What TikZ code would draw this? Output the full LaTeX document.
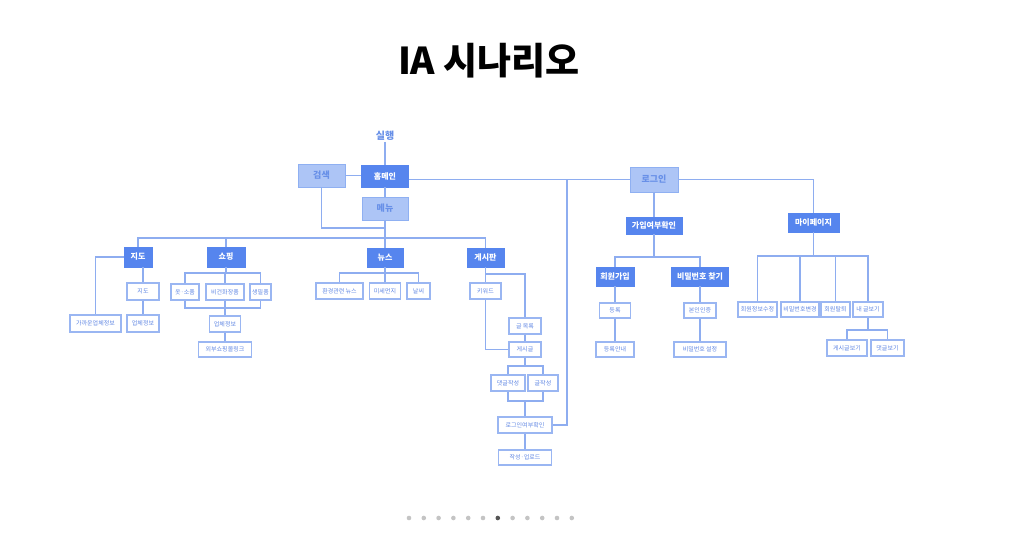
\documentclass[tikz,border=0pt]{standalone}
\usepackage{fontspec}
\setmainfont{Noto Sans CJK KR}
\definecolor{dkblue}{HTML}{5685EE}
\definecolor{ltfill}{HTML}{ADC5F6}
\definecolor{ltborder}{HTML}{8FB0F2}
\definecolor{lttext}{HTML}{6890E8}
\definecolor{lnblue}{HTML}{8EADF0}
\definecolor{wbborder}{HTML}{9AB6F2}
\definecolor{wbtext}{HTML}{6389E4}
\definecolor{dotgray}{HTML}{C4C4C4}
\definecolor{dotdark}{HTML}{555555}
\tikzset{
  darkbox/.style={fill=dkblue, draw=dkblue, text=white, font=\fontsize{8}{9}\selectfont\bfseries, inner sep=0pt, line width=0.8pt},
  lightbox/.style={fill=ltfill, draw=ltborder, text=lttext, font=\fontsize{9}{10}\selectfont\bfseries, inner sep=0pt, line width=1pt},
  whitebox/.style={fill=white, draw=wbborder, text=wbtext, font=\fontsize{6}{7}\selectfont, inner sep=0pt, line width=1.1pt},
  conn/.style={draw=lnblue, line width=1.1pt},
}
\newcommand{\bx}[6]{\node[#1, minimum width=#4pt, minimum height=#5pt] (#2) at (#3) {#6};}
\begin{document}
\begin{tikzpicture}[x=1pt,y=-1pt]
\useasboundingbox (0,0) rectangle (1021,544);
\fill[white] (0,0) rectangle (1021,544);
% title
\node[font=\fontsize{37}{40}\selectfont\bfseries, text=black] (title) at (489,61) {IA 시나리오};
% root
\node[font=\fontsize{10}{11}\selectfont\bfseries, text=lttext, inner sep=1pt] (run) at (385,136) {실행};
\bx{darkbox}{home}{385,176}{47}{22}{홈메인}
\bx{lightbox}{search}{321.5,175.5}{47}{23}{검색}
\bx{lightbox}{menu}{385,208.5}{46}{23}{메뉴}
\bx{lightbox}{login}{654,179.5}{48}{25}{로그인}
% login branch
\bx{darkbox}{joincheck}{654,225.5}{56}{17}{가입여부확인}
\bx{darkbox}{signup}{615,276.5}{38}{19}{회원가입}
\bx{darkbox}{findpw}{700,276.5}{57}{19}{비밀번호 찾기}
\bx{whitebox}{reg}{615,310.5}{31}{15}{등록}
\bx{whitebox}{reginfo}{615,349.5}{38}{15}{등록안내}
\bx{whitebox}{auth}{700,310.5}{32}{15}{본인인증}
\bx{whitebox}{setpw}{700,349.5}{52}{15}{비밀번호 설정}
% my page
\bx{darkbox}{mypage}{813.5,222.5}{51}{19}{마이페이지}
\bx{whitebox}{m1}{757.5,309.5}{39}{15}{회원정보수정}
\bx{whitebox}{m2}{800,309.5}{38}{15}{비밀번호변경}
\bx{whitebox}{m3}{835.5,309.5}{29}{15}{회원탈퇴}
\bx{whitebox}{m4}{868,309.5}{30}{15}{내 글보기}
\bx{whitebox}{m5}{847,348}{40}{16}{게시글보기}
\bx{whitebox}{m6}{887.5,348}{33}{16}{댓글보기}
% menu children
\bx{darkbox}{map}{138,257}{28}{20}{지도}
\bx{darkbox}{shop}{226,257}{38}{20}{쇼핑}
\bx{darkbox}{news}{385,257.5}{36}{19}{뉴스}
\bx{darkbox}{board}{485.5,257.5}{37}{19}{게시판}
\bx{whitebox}{map2}{143,291.5}{32}{17}{지도}
\bx{whitebox}{near}{95.5,323.5}{51}{17}{가까운업체정보}
\bx{whitebox}{mapinfo}{143,323.5}{32}{17}{업체정보}
\bx{whitebox}{s1}{185,292}{28}{16}{옷·소품}
\bx{whitebox}{s2}{225,292}{38}{16}{비건화장품}
\bx{whitebox}{s3}{260.5,292}{21}{16}{생필품}
\bx{whitebox}{sinfo}{225,324}{31}{16}{업체정보}
\bx{whitebox}{slink}{225,349.5}{53}{15}{외부쇼핑몰링크}
\bx{whitebox}{n1}{339.5,291}{47}{16}{환경관련 뉴스}
\bx{whitebox}{n2}{385,291}{31}{16}{미세먼지}
\bx{whitebox}{n3}{418.5,291}{23}{16}{날씨}
\bx{whitebox}{b1}{485.5,291}{31}{16}{키워드}
\bx{whitebox}{b2}{525,326}{32}{16}{글 목록}
\bx{whitebox}{b3}{525,349.5}{32}{15}{게시글}
\bx{whitebox}{b4}{508,383}{34}{16}{댓글작성}
\bx{whitebox}{b5}{543,383}{30}{16}{글작성}
\bx{whitebox}{b6}{525,425}{54}{16}{로그인여부확인}
\bx{whitebox}{b7}{525,457.5}{53}{15}{작성·업로드}
% helper coordinates
\coordinate (mbus) at (385,228);
\coordinate (hbus) at (385,238);
\coordinate (lv) at (567,179.5);
\coordinate (jbus) at (654,257);
\coordinate (mpbus) at (813.5,256);
\coordinate (mgbus) at (868,330);
\coordinate (shbus) at (226,273);
\coordinate (sb) at (225,308);
\coordinate (nbus) at (385,273);
\coordinate (bt) at (485.5,274);
\coordinate (b3bus) at (525,366);
\coordinate (b5bus) at (525,401);
\path[conn] (run.south) -- (home.north);
\path[conn] (search.east) -- (home.west |- search.east);
\path[conn] (home.south) -- (menu.north);
\path[conn] (search.south) |- (mbus);
\path[conn] (menu.south) -- (hbus);
\path[conn] (map.north) |- (hbus) -| (board.north);
\path[conn] (shop.north) -- (shop.north |- hbus);
\path[conn] (news.north) -- (hbus);
\path[conn] (home.east |- login.west) -- (login.west);
\path[conn] (login.east) -| (mypage.north);
\path[conn] (lv) |- (b6.east);
\path[conn] (login.south) -- (joincheck.north);
\path[conn] (joincheck.south) -- (jbus);
\path[conn] (signup.north) |- (jbus) -| (findpw.north);
\path[conn] (signup.south) -- (reg.north);
\path[conn] (reg.south) -- (reginfo.north);
\path[conn] (findpw.south) -- (auth.north);
\path[conn] (auth.south) -- (setpw.north);
\path[conn] (mypage.south) -- (mpbus);
\path[conn] (m1.north) |- (mpbus) -| (m4.north);
\path[conn] (m2.north) -- (m2.north |- mpbus);
\path[conn] (m3.north) -- (m3.north |- mpbus);
\path[conn] (m4.south) -- (mgbus);
\path[conn] (m5.north) |- (mgbus) -| (m6.north);
\path[conn] (map.west) -| (near.north);
\path[conn] (map2.north |- map.south) -- (map2.north);
\path[conn] (map2.south) -- (mapinfo.north);
\path[conn] (shop.south) -- (shbus);
\path[conn] (s1.north) |- (shbus) -| (s3.north);
\path[conn] (s2.north) -- (s2.north |- shbus);
\path[conn] (s1.south) |- (sb) -| (s3.south);
\path[conn] (s2.south) -- (sinfo.north);
\path[conn] (sinfo.south) -- (slink.north);
\path[conn] (news.south) -- (nbus);
\path[conn] (n1.north) |- (nbus) -| (n3.north);
\path[conn] (n2.north) -- (n2.north |- nbus);
\path[conn] (board.south) -- (b1.north);
\path[conn] (bt) -| (b2.north);
\path[conn] (b1.south) |- (b3.west);
\path[conn] (b2.south) -- (b3.north);
\path[conn] (b3.south) -- (b3bus);
\path[conn] (b4.north) |- (b3bus) -| (b5.north);
\path[conn] (b4.south) |- (b5bus) -| (b5.south);
\path[conn] (b5bus) -- (b6.north);
\path[conn] (b6.south) -- (b7.north);
% pager dots
\foreach \i in {0,...,11} {
  \ifnum\i=6
    \fill[dotdark] (409+\i*14.8,518) circle (2.3);
  \else
    \fill[dotgray] (409+\i*14.8,518) circle (2.3);
  \fi
}
\end{tikzpicture}
\end{document}
